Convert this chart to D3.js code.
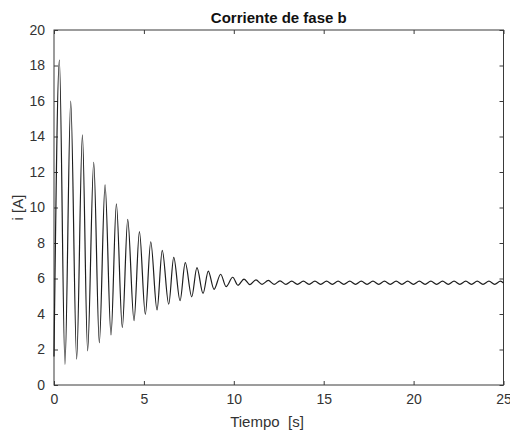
<!DOCTYPE html>
<html><head><meta charset="utf-8">
<script src="https://cdn.jsdelivr.net/npm/d3@7"></script>
<style>body{margin:0;background:#fff}svg{display:block}text{font-family:"Liberation Sans",Arial,sans-serif}</style>
</head><body><svg id="c" width="510" height="432"></svg>
<script>
const title = "Corriente de fase b";
const xLabel = "Tiempo  [s]";
const yLabel = "i [A]";
const xTicks = [0,5,10,15,20,25];
const yTicks = [0,2,4,6,8,10,12,14,16,18,20];
// extrema of the current trace (time s, current A)
const times = [0,0.30,0.61,0.93,1.26,1.58,1.87,2.21,2.52,2.84,3.17,3.47,3.80,4.10,4.45,4.75,5.08,5.38,5.73,6.02,6.38,6.66,7.01,7.30,7.66,7.95,8.29,8.58,8.90,9.27,9.57,9.94,10.23,10.57,10.90,11.23,11.57,11.92,12.24,12.57,12.90,13.22,13.54,13.87,14.19,14.51,14.83,15.16,15.48,15.80,16.12,16.45,16.77,17.09,17.41,17.74,18.06,18.38,18.70,19.03,19.35,19.67,19.99,20.32,20.64,20.96,21.28,21.61,21.93,22.25,22.57,22.90,23.22,23.54,23.86,24.19,24.51,24.83,25.00];
const current = [1.6,18.3,1.16,16.0,1.46,14.1,1.92,12.55,2.38,11.27,2.82,10.21,3.23,9.33,3.62,8.64,3.98,8.07,4.23,7.59,4.55,7.19,4.75,6.89,4.97,6.61,5.16,6.42,5.39,6.24,5.54,6.07,5.62,5.97,5.66,5.92,5.67,5.89,5.67,5.87,5.67,5.85,5.67,5.85,5.67,5.85,5.67,5.85,5.67,5.85,5.67,5.85,5.67,5.85,5.67,5.85,5.67,5.85,5.67,5.85,5.67,5.85,5.67,5.85,5.67,5.85,5.67,5.85,5.67,5.85,5.67,5.85,5.67,5.85,5.67,5.85,5.67,5.85,5.75];

const svg = d3.select("#c");
const m = {l:54, r:503.5, t:30, b:385};
const x = d3.scaleLinear().domain([0,25]).range([m.l,m.r]);
const y = d3.scaleLinear().domain([0,20]).range([m.b,m.t]);
const axisCol = "#3a3a3a", txtCol = "#333";

svg.append("rect").attr("x",m.l).attr("y",m.t).attr("width",m.r-m.l).attr("height",m.b-m.t)
  .attr("fill","#fff").attr("stroke",axisCol).attr("stroke-width",1);

function styleAxis(g, noLabels){
  g.select(".domain").remove();
  g.selectAll(".tick line").attr("stroke",axisCol);
  g.selectAll(".tick text").attr("fill",txtCol).style("font-size","14px");
  if(noLabels) g.selectAll(".tick text").remove();
}
svg.append("g").attr("transform",`translate(0,${m.b})`)
  .call(d3.axisBottom(x).tickValues(xTicks).tickSize(-4).tickPadding(9).tickFormat(d3.format("d")))
  .call(g=>styleAxis(g,false));
svg.append("g").attr("transform",`translate(0,${m.t})`)
  .call(d3.axisTop(x).tickValues(xTicks).tickSize(-4))
  .call(g=>styleAxis(g,true));
svg.append("g").attr("transform",`translate(${m.l},0)`)
  .call(d3.axisLeft(y).tickValues(yTicks).tickSize(-4).tickPadding(9).tickFormat(d3.format("d")))
  .call(g=>styleAxis(g,false));
svg.append("g").attr("transform",`translate(${m.r},0)`)
  .call(d3.axisRight(y).tickValues(yTicks).tickSize(-4))
  .call(g=>styleAxis(g,true));

const pts = times.map((t,i)=>[t,current[i]]);
const line = d3.line().x(d=>x(d[0])).y(d=>y(d[1])).curve(d3.curveMonotoneX);
svg.append("path").datum(pts)
  .attr("fill","none").attr("stroke","#1e1e1e").attr("stroke-width",1.2)
  .attr("d", line);

svg.append("text").attr("x",(m.l+m.r)/2).attr("y",23).attr("text-anchor","middle")
  .attr("fill","#111").style("font-size","15px").style("font-weight","bold").text(title);
svg.append("text").attr("x",267).attr("y",427).attr("text-anchor","middle")
  .attr("fill",txtCol).style("font-size","15px").style("white-space","pre").text(xLabel);
svg.append("text").attr("transform",`translate(23,${(m.t+m.b)/2}) rotate(-90)`).attr("text-anchor","middle")
  .attr("fill",txtCol).style("font-size","15px").text(yLabel);
</script></body></html>
